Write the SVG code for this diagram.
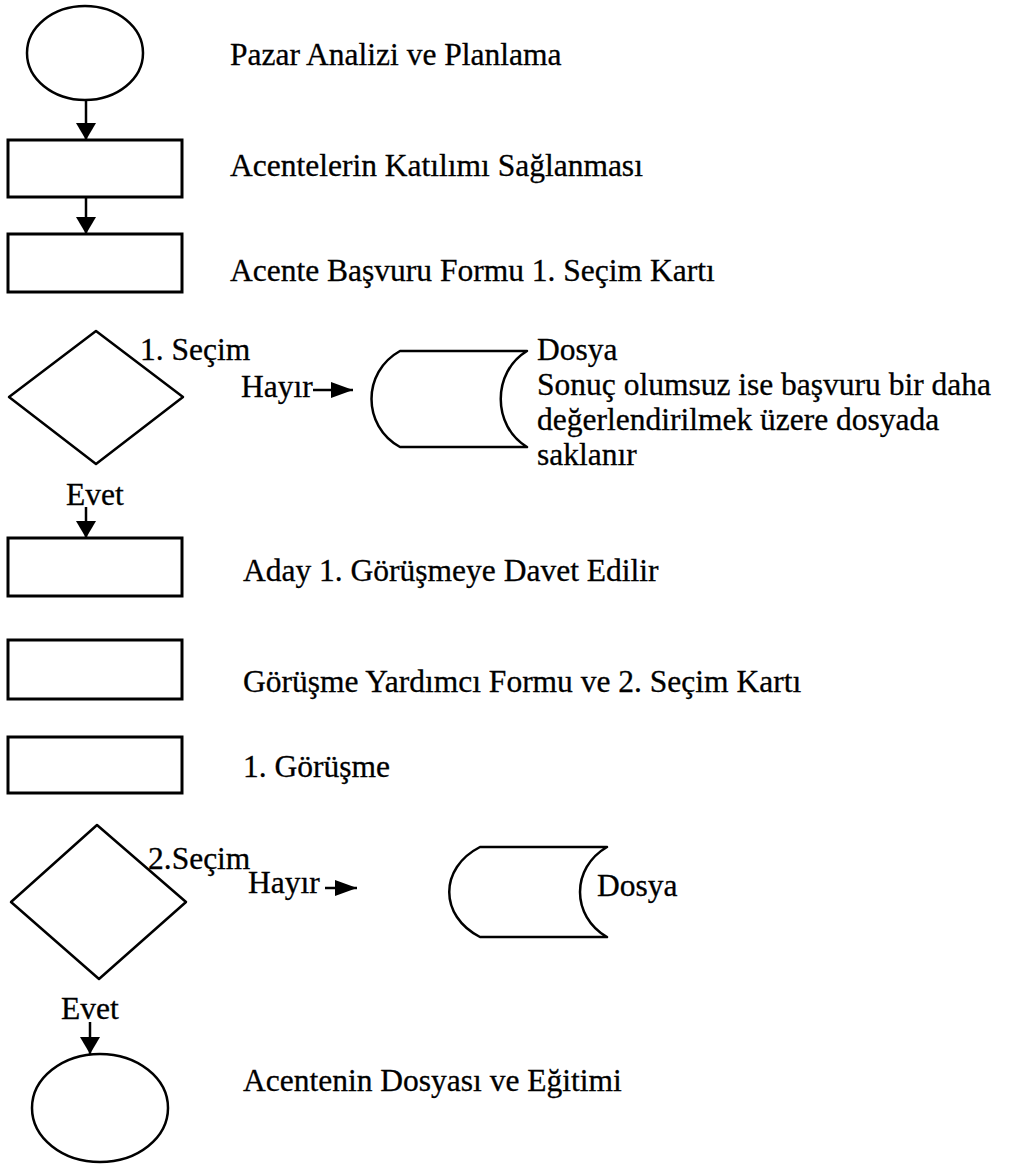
<svg xmlns="http://www.w3.org/2000/svg" width="1009" height="1171" viewBox="0 0 1009 1171">
  <style>
    .shape { fill: none; stroke: #000; stroke-width: 2.5; stroke-linejoin: round; }
    .box { fill: none; stroke: #000; stroke-width: 3; }
    .link { fill: none; stroke: #000; stroke-width: 2.5; }
    text { font-family: "Liberation Serif", "Times New Roman", serif; font-size: 31.5px; fill: #000; stroke: #000; stroke-width: 0.3; }
  </style>
  <defs>
    <marker id="head" markerUnits="userSpaceOnUse" markerWidth="20" markerHeight="20" viewBox="0 0 20 20" refX="17" refY="10" orient="auto">
      <path d="M0,0 L17,10 L0,20 Z" fill="#000"/>
    </marker>
    <marker id="headH" markerUnits="userSpaceOnUse" markerWidth="24" markerHeight="18" viewBox="0 0 24 18" refX="22" refY="9" orient="auto">
      <path d="M0,1 L22,9 L0,17 Z" fill="#000"/>
    </marker>
  </defs>

  <rect width="1009" height="1171" fill="#fff"/>

  <!-- connectors -->
  <g id="connectors">
    <line class="link" x1="86" y1="101" x2="86" y2="140" marker-end="url(#head)"/>
    <line class="link" x1="86" y1="197" x2="86" y2="234" marker-end="url(#head)"/>
    <line class="link" x1="86" y1="507" x2="86" y2="538" marker-end="url(#head)"/>
    <line class="link" x1="90" y1="1022" x2="90" y2="1054" marker-end="url(#head)"/>
    <line class="link" x1="313" y1="390" x2="353" y2="390" marker-end="url(#headH)"/>
    <line class="link" x1="325" y1="888" x2="357" y2="888" marker-end="url(#headH)"/>
  </g>

  <!-- start -->
  <g id="start">
    <ellipse class="shape" cx="85" cy="53" rx="58" ry="47"/>
    <text x="230" y="65">Pazar Analizi ve Planlama</text>
  </g>

  <g id="step-katilim">
    <rect class="box" x="8" y="140" width="174" height="57"/>
    <text x="230" y="176">Acentelerin Katılımı Sağlanması</text>
  </g>

  <g id="step-basvuru">
    <rect class="box" x="8" y="234" width="174" height="58"/>
    <text x="230" y="281">Acente Başvuru Formu 1. Seçim Kartı</text>
  </g>

  <!-- first selection -->
  <g id="decision-1">
    <polygon class="shape" points="96,331 183,397 96,464 9,397"/>
    <text x="140" y="360">1. Seçim</text>
    <text x="241" y="397">Hayır</text>
    <text x="66" y="505">Evet</text>
  </g>

  <g id="file-1">
    <path class="shape" d="M400,351 L527,351 C492,372 492,426 527,447 L400,447 C362,426 362,372 400,351 Z"/>
    <text x="537" y="360">Dosya</text>
    <text x="537" y="395">Sonuç olumsuz ise başvuru bir daha</text>
    <text x="537" y="430">değerlendirilmek üzere dosyada</text>
    <text x="537" y="465">saklanır</text>
  </g>

  <g id="step-davet">
    <rect class="box" x="8" y="538" width="174" height="58"/>
    <text x="243" y="581">Aday 1. Görüşmeye Davet Edilir</text>
  </g>

  <g id="step-form">
    <rect class="box" x="8" y="640" width="174" height="59"/>
    <text x="243" y="692">Görüşme Yardımcı Formu ve 2. Seçim Kartı</text>
  </g>

  <g id="step-gorusme">
    <rect class="box" x="8" y="737" width="174" height="56"/>
    <text x="243" y="777">1. Görüşme</text>
  </g>

  <!-- second selection -->
  <g id="decision-2">
    <polygon class="shape" points="97,825 186,902 99,979 11,902"/>
    <text x="148" y="869">2.Seçim</text>
    <text x="248" y="893">Hayır</text>
    <text x="61" y="1019">Evet</text>
  </g>

  <g id="file-2">
    <path class="shape" d="M480,847 L607,847 C571,868 571,916 607,937 L480,937 C439,916 439,868 480,847 Z"/>
    <text x="597" y="896">Dosya</text>
  </g>

  <!-- end -->
  <g id="end">
    <ellipse class="shape" cx="100" cy="1108" rx="68" ry="54"/>
    <text x="243" y="1091">Acentenin Dosyası ve Eğitimi</text>
  </g>
</svg>
